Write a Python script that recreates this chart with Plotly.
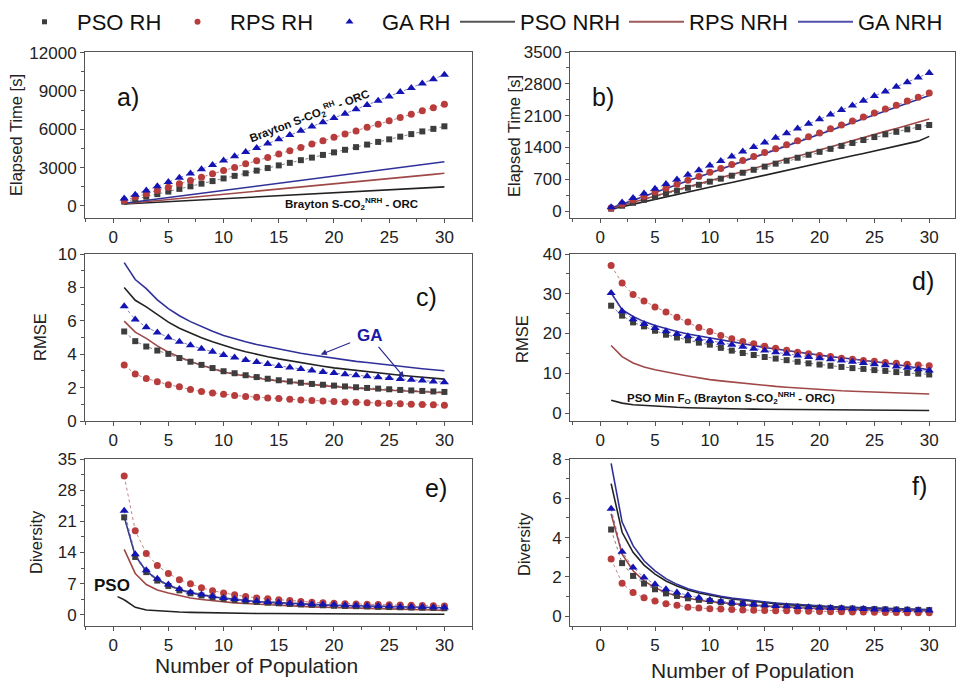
import plotly.graph_objects as go

FONT = "Liberation Sans, Arial, Helvetica, sans-serif"

# ---------------- data ----------------
pop = list(range(1, 31))

# a) elapsed time [s], Brayton S-CO2 RH / NRH - ORC
a_pso_rh = [330, 520, 720, 920, 1120, 1330, 1530, 1740, 1940, 2150, 2350, 2550, 2760, 2960, 3170,
            3370, 3580, 3780, 3990, 4190, 4390, 4600, 4800, 5010, 5210, 5420, 5620, 5830, 6030, 6230]
a_rps_rh = [420, 690, 950, 1210, 1450, 1730, 1990, 2240, 2510, 2770, 3010, 3290, 3540, 3790, 4070,
            4320, 4570, 4850, 5090, 5370, 5620, 5870, 6150, 6390, 6660, 6930, 7170, 7440, 7690, 7960]
a_ga_rh = [570, 880, 1210, 1530, 1860, 2200, 2540, 2870, 3210, 3560, 3880, 4210, 4540, 4880, 5210,
           5550, 5880, 6210, 6550, 6890, 7220, 7560, 7900, 8230, 8570, 8910, 9240, 9580, 9920, 10270]
a_pso_nrh = [150, 195, 240, 290, 335, 380, 425, 470, 520, 565, 610, 655, 700, 750, 795,
             840, 885, 930, 980, 1025, 1070, 1115, 1160, 1210, 1255, 1300, 1345, 1390, 1440, 1485]
a_rps_nrh = [170, 250, 330, 415, 500, 580, 660, 745, 825, 910, 990, 1070, 1155, 1235, 1320,
             1400, 1480, 1565, 1645, 1730, 1810, 1890, 1975, 2055, 2140, 2220, 2300, 2385, 2465, 2550]
a_ga_nrh = [200, 310, 425, 535, 650, 760, 875, 985, 1100, 1210, 1325, 1435, 1550, 1660, 1775,
            1885, 2000, 2110, 2225, 2335, 2450, 2560, 2675, 2785, 2900, 3010, 3125, 3235, 3350, 3460]

# b) elapsed time [s]
b_pso_rh = [55, 120, 185, 250, 315, 385, 450, 515, 580, 650, 715, 780, 845, 910, 980,
            1045, 1110, 1175, 1240, 1305, 1370, 1435, 1500, 1565, 1630, 1690, 1745, 1800, 1850, 1895]
b_rps_rh = [70, 160, 245, 330, 420, 505, 590, 680, 765, 855, 940, 1025, 1115, 1200, 1290,
            1375, 1460, 1550, 1635, 1720, 1810, 1895, 1985, 2070, 2160, 2245, 2330, 2420, 2505, 2600]
b_ga_rh = [85, 190, 290, 390, 495, 595, 695, 800, 900, 1005, 1105, 1205, 1310, 1410, 1510,
           1615, 1715, 1820, 1920, 2020, 2125, 2225, 2325, 2430, 2530, 2630, 2735, 2835, 2940, 3040]
b_pso_nrh = [45, 100, 150, 205, 260, 310, 365, 420, 470, 525, 580, 630, 685, 740, 790,
             845, 900, 950, 1005, 1060, 1110, 1165, 1220, 1270, 1325, 1380, 1430, 1485, 1540, 1645]
b_rps_nrh = [60, 130, 195, 265, 330, 400, 465, 535, 600, 670, 740, 805, 875, 940, 1010,
             1075, 1145, 1210, 1280, 1345, 1415, 1480, 1550, 1620, 1685, 1755, 1820, 1890, 1955, 2025]
b_ga_nrh = [70, 155, 240, 325, 410, 495, 580, 665, 750, 835, 920, 1010, 1095, 1180, 1265,
            1350, 1435, 1520, 1605, 1690, 1775, 1860, 1945, 2035, 2120, 2205, 2290, 2375, 2460, 2545]

# c) RMSE
c_pso_rh = [5.36, 4.78, 4.46, 4.22, 4.02, 3.77, 3.55, 3.36, 3.17, 2.98, 2.86, 2.74, 2.63, 2.53, 2.44,
            2.37, 2.29, 2.22, 2.17, 2.12, 2.07, 2.02, 1.98, 1.94, 1.90, 1.86, 1.83, 1.80, 1.77, 1.74]
c_rps_rh = [3.35, 2.81, 2.55, 2.35, 2.17, 2.05, 1.88, 1.77, 1.68, 1.60, 1.53, 1.47, 1.42, 1.38, 1.34,
            1.30, 1.26, 1.23, 1.20, 1.17, 1.14, 1.12, 1.09, 1.07, 1.05, 1.03, 1.01, 0.99, 0.97, 0.95]
c_ga_rh = [6.87, 6.08, 5.62, 5.30, 5.00, 4.75, 4.53, 4.33, 4.15, 3.95, 3.80, 3.66, 3.53, 3.41, 3.30,
           3.20, 3.11, 3.02, 2.94, 2.87, 2.80, 2.74, 2.68, 2.62, 2.57, 2.52, 2.47, 2.42, 2.37, 2.32]
c_pso_nrh = [7.99, 7.23, 6.83, 6.35, 5.92, 5.55, 5.25, 4.98, 4.74, 4.52, 4.33, 4.15, 3.99, 3.85, 3.72,
             3.60, 3.48, 3.38, 3.28, 3.18, 3.10, 3.02, 2.95, 2.88, 2.80, 2.74, 2.68, 2.62, 2.57, 2.51]
c_rps_nrh = [5.98, 5.32, 4.95, 4.50, 4.12, 3.82, 3.56, 3.34, 3.12, 2.93, 2.80, 2.68, 2.57, 2.47, 2.40,
             2.32, 2.25, 2.18, 2.12, 2.06, 2.01, 1.96, 1.92, 1.88, 1.84, 1.81, 1.78, 1.75, 1.72, 1.69]
c_ga_nrh = [9.48, 8.47, 7.93, 7.25, 6.73, 6.30, 5.95, 5.65, 5.38, 5.12, 4.92, 4.74, 4.58, 4.44, 4.32,
            4.18, 4.06, 3.95, 3.85, 3.74, 3.65, 3.57, 3.50, 3.42, 3.34, 3.27, 3.20, 3.13, 3.07, 3.01]

# d) RMSE
d_pso_rh = [27.0, 24.5, 22.8, 21.8, 20.7, 19.7, 19.0, 18.3, 17.7, 17.2, 16.4, 15.7, 15.1, 14.6, 14.1,
            13.7, 13.3, 12.9, 12.5, 12.2, 11.9, 11.6, 11.3, 11.1, 10.8, 10.6, 10.3, 10.1, 9.9, 9.7]
d_rps_rh = [37.1, 32.7, 29.8, 28.2, 26.7, 25.4, 24.1, 22.9, 21.5, 20.5, 19.5, 18.7, 18.0, 17.4, 16.8,
            16.3, 15.8, 15.3, 14.9, 14.5, 14.2, 13.8, 13.5, 13.2, 13.0, 12.7, 12.5, 12.3, 12.1, 11.9]
d_ga_rh = [30.2, 25.6, 23.6, 22.4, 21.4, 20.6, 19.9, 19.3, 18.7, 18.2, 17.7, 17.2, 16.7, 16.2, 15.7,
           15.3, 14.9, 14.5, 14.1, 13.8, 13.5, 13.2, 12.9, 12.6, 12.3, 12.0, 11.7, 11.4, 11.0, 10.7]
d_pso_nrh = [3.2, 2.5, 2.1, 1.9, 1.7, 1.55, 1.45, 1.35, 1.25, 1.15, 1.1, 1.05, 1.0, 0.98, 0.95,
             0.92, 0.9, 0.88, 0.86, 0.85, 0.83, 0.8, 0.78, 0.76, 0.74, 0.72, 0.7, 0.68, 0.66, 0.65]
d_rps_nrh = [17.0, 14.2, 12.6, 11.6, 10.9, 10.3, 9.8, 9.3, 8.8, 8.4, 8.1, 7.8, 7.5, 7.2, 6.9,
             6.7, 6.5, 6.3, 6.1, 5.9, 5.8, 5.6, 5.5, 5.4, 5.3, 5.2, 5.1, 5.0, 4.9, 4.8]
d_ga_nrh = [30.2, 26.0, 24.3, 23.0, 22.0, 21.2, 20.5, 19.9, 19.4, 18.9, 18.4, 17.9, 17.4, 16.9, 16.5,
            16.1, 15.7, 15.3, 14.9, 14.5, 14.2, 13.9, 13.6, 13.3, 13.0, 12.6, 12.2, 11.8, 11.4, 10.9]

# e) diversity
e_pso_rh = [21.9, 13.0, 9.6, 7.7, 6.5, 5.5, 4.85, 4.35, 3.95, 3.6, 3.35, 3.1, 2.9, 2.75, 2.6,
            2.45, 2.35, 2.25, 2.15, 2.05, 2.0, 1.95, 1.9, 1.8, 1.75, 1.7, 1.65, 1.6, 1.55, 1.5]
e_rps_rh = [31.2, 18.9, 13.8, 11.1, 9.3, 7.9, 7.0, 6.1, 5.4, 4.9, 4.5, 4.1, 3.8, 3.6, 3.4,
            3.2, 3.0, 2.85, 2.7, 2.6, 2.5, 2.45, 2.4, 2.3, 2.25, 2.2, 2.15, 2.1, 2.05, 2.0]
e_ga_rh = [23.4, 13.6, 10.0, 8.1, 6.8, 5.8, 5.1, 4.6, 4.2, 3.8, 3.55, 3.3, 3.1, 2.9, 2.75,
           2.6, 2.5, 2.4, 2.3, 2.25, 2.15, 2.1, 2.05, 2.0, 1.95, 1.85, 1.8, 1.75, 1.7, 1.65]
e_pso_nrh = [3.4, 1.7, 1.1, 0.9, 0.75, 0.65, 0.57, 0.5, 0.45, 0.4, 0.37, 0.34, 0.32, 0.3, 0.28,
             0.26, 0.25, 0.24, 0.23, 0.22, 0.21, 0.2, 0.19, 0.18, 0.18, 0.17, 0.16, 0.16, 0.15, 0.15]
e_rps_nrh = [14.7, 9.3, 6.8, 5.6, 4.9, 4.3, 3.8, 3.45, 3.15, 2.9, 2.7, 2.55, 2.4, 2.25, 2.1,
             2.0, 1.9, 1.8, 1.7, 1.6, 1.55, 1.5, 1.45, 1.4, 1.3, 1.25, 1.2, 1.15, 1.1, 1.0]
e_ga_nrh = [22.0, 13.3, 9.8, 7.9, 6.7, 5.7, 5.0, 4.5, 4.1, 3.75, 3.45, 3.2, 3.0, 2.85, 2.7,
            2.55, 2.45, 2.35, 2.25, 2.15, 2.1, 2.05, 2.0, 1.9, 1.85, 1.8, 1.75, 1.7, 1.65, 1.6]

# f) diversity
f_pso_rh = [4.41, 2.7, 2.05, 1.66, 1.37, 1.16, 1.03, 0.91, 0.83, 0.77, 0.71, 0.66, 0.62, 0.59, 0.56,
            0.53, 0.5, 0.48, 0.45, 0.43, 0.42, 0.4, 0.39, 0.37, 0.36, 0.35, 0.34, 0.33, 0.32, 0.31]
f_rps_rh = [2.91, 1.68, 1.2, 0.94, 0.77, 0.63, 0.55, 0.46, 0.41, 0.38, 0.36, 0.34, 0.32, 0.3, 0.29,
            0.28, 0.27, 0.26, 0.25, 0.24, 0.23, 0.22, 0.21, 0.21, 0.2, 0.19, 0.19, 0.18, 0.18, 0.17]
f_ga_rh = [5.47, 3.28, 2.48, 1.97, 1.62, 1.37, 1.2, 1.06, 0.94, 0.82, 0.75, 0.68, 0.63, 0.59, 0.55,
           0.52, 0.5, 0.47, 0.45, 0.43, 0.41, 0.4, 0.38, 0.36, 0.34, 0.33, 0.32, 0.31, 0.3, 0.29]
f_pso_nrh = [6.75, 4.27, 3.25, 2.6, 2.14, 1.79, 1.54, 1.33, 1.18, 1.06, 0.96, 0.88, 0.81, 0.74, 0.68,
             0.63, 0.59, 0.55, 0.51, 0.48, 0.46, 0.44, 0.42, 0.4, 0.38, 0.37, 0.35, 0.34, 0.32, 0.31]
f_rps_nrh = [5.21, 3.16, 2.31, 1.8, 1.45, 1.2, 1.03, 0.91, 0.81, 0.73, 0.67, 0.62, 0.58, 0.54, 0.51,
             0.48, 0.45, 0.43, 0.4, 0.38, 0.37, 0.35, 0.34, 0.32, 0.31, 0.3, 0.29, 0.28, 0.27, 0.26]
f_ga_nrh = [7.78, 4.79, 3.59, 2.82, 2.31, 1.91, 1.62, 1.4, 1.24, 1.11, 1.01, 0.92, 0.85, 0.78, 0.72,
            0.67, 0.63, 0.59, 0.55, 0.51, 0.49, 0.47, 0.45, 0.43, 0.41, 0.4, 0.38, 0.37, 0.35, 0.34]

x_ticks = [0, 5, 10, 15, 20, 25, 30]
panel_names = ["a)", "b)", "c)", "d)", "e)", "f)"]
y_titles = ["Elapsed Time [s]", "Elapsed Time [s]", "RMSE", "RMSE", "Diversity", "Diversity"]
y_ranges = [[-950, 12050], [-150, 3500], [0, 10], [-2, 40], [-2.5, 35], [-0.5, 8]]
y_dticks = [3000, 700, 2, 10, 7, 2]
x_title = "Number of Population"

series_names = ["PSO RH", "RPS RH", "GA RH", "PSO NRH", "RPS NRH", "GA NRH"]
panels = [
    [a_pso_rh, a_rps_rh, a_ga_rh, a_pso_nrh, a_rps_nrh, a_ga_nrh],
    [b_pso_rh, b_rps_rh, b_ga_rh, b_pso_nrh, b_rps_nrh, b_ga_nrh],
    [c_pso_rh, c_rps_rh, c_ga_rh, c_pso_nrh, c_rps_nrh, c_ga_nrh],
    [d_pso_rh, d_rps_rh, d_ga_rh, d_pso_nrh, d_rps_nrh, d_ga_nrh],
    [e_pso_rh, e_rps_rh, e_ga_rh, e_pso_nrh, e_rps_nrh, e_ga_nrh],
    [f_pso_rh, f_rps_rh, f_ga_rh, f_pso_nrh, f_rps_nrh, f_ga_nrh],
]

# ---------------- styles ----------------
marker_styles = [
    dict(symbol="square", size=6, color="#3d3d3d"),
    dict(symbol="circle", size=7, color="#b83c3c"),
    dict(symbol="triangle-up", size=8, color="#1414b4"),
]
connector_colors = ["rgba(90,90,90,0.75)", "rgba(170,90,90,0.75)", "rgba(90,90,170,0.75)"]
line_colors = ["#222222", "#a04848", "#30309a"]
legend_line_colors = ["#555555", "#a05a5a", "#5050a8"]

W, H = 957, 681
col_dom = [[85 / W, 472 / W], [570 / W, 955 / W]]
row_dom = [[1 - 218 / H, 1 - 52 / H], [1 - 421 / H, 1 - 254 / H], [1 - 626 / H, 1 - 459 / H]]
x_ranges = [[-2.55, 32.5], [-2.75, 32.35]]

legend_x_px = [12, 165, 317, 455, 624, 793]

fig = go.Figure()

for p, data in enumerate(panels):
    ax = "" if p == 0 else str(p + 1)
    xa, ya = "x" + ax, "y" + ax
    # NRH solid curves
    for k in range(3, 6):
        fig.add_trace(go.Scatter(
            x=pop, y=data[k], mode="lines", name=series_names[k],
            line=dict(color=line_colors[k - 3], width=1.6),
            xaxis=xa, yaxis=ya, showlegend=False, hoverinfo="skip"))
    # RH points with thin dotted connectors
    for k in range(3):
        fig.add_trace(go.Scatter(
            x=pop, y=data[k], mode="lines",
            line=dict(color=connector_colors[k], width=1, dash="dot"),
            xaxis=xa, yaxis=ya, showlegend=False, hoverinfo="skip"))
        fig.add_trace(go.Scatter(
            x=pop, y=data[k], mode="markers", name=series_names[k],
            marker=dict(symbol=marker_styles[k]["symbol"], size=marker_styles[k]["size"],
                        color=marker_styles[k]["color"], line=dict(width=0)),
            xaxis=xa, yaxis=ya, showlegend=False))

# legend entries (one legend per entry so each sits where it should)
for k in range(6):
    lg = "legend" if k == 0 else "legend" + str(k + 1)
    if k < 3:
        fig.add_trace(go.Scatter(
            x=[None], y=[None], mode="markers", name=series_names[k],
            marker=dict(symbol=marker_styles[k]["symbol"], size=marker_styles[k]["size"] - 1,
                        color=marker_styles[k]["color"]),
            legend=lg, showlegend=True))
    else:
        fig.add_trace(go.Scatter(
            x=[None], y=[None], mode="lines", name=series_names[k],
            line=dict(color=legend_line_colors[k - 3], width=2),
            legend=lg, showlegend=True))

layout = dict(
    width=W, height=H,
    margin=dict(l=0, r=0, t=0, b=0, autoexpand=False),
    paper_bgcolor="white", plot_bgcolor="white",
    font=dict(family=FONT, color="#222"),
    showlegend=True,
)
for k in range(6):
    lg = "legend" if k == 0 else "legend" + str(k + 1)
    layout[lg] = dict(
        x=legend_x_px[k] / W, y=1 - 22 / H, xanchor="left", yanchor="middle",
        xref="container", yref="container",
        orientation="h", bgcolor="rgba(0,0,0,0)", borderwidth=0,
        font=dict(family=FONT, size=22, color="#111"), itemwidth=55,
        itemclick=False, itemdoubleclick=False)

axis_base = dict(
    showline=True, linecolor="#555", linewidth=1, mirror=True,
    ticks="outside", ticklen=4, tickwidth=1, tickcolor="#555",
    tickfont=dict(family=FONT, size=17, color="#222"),
    showgrid=False, zeroline=False, fixedrange=True, automargin=False,
)
for p in range(6):
    r, c = divmod(p, 2)
    ax = "" if p == 0 else str(p + 1)
    layout["xaxis" + ax] = dict(
        axis_base, domain=col_dom[c], range=x_ranges[c], anchor="y" + ax,
        tickvals=x_ticks, minor=dict(ticks="outside", ticklen=3, tickcolor="#555", dtick=2.5, tick0=0))
    layout["yaxis" + ax] = dict(
        axis_base, domain=row_dom[r], range=y_ranges[p], anchor="x" + ax,
        tick0=0, dtick=y_dticks[p], tickformat="d",
        minor=dict(ticks="outside", ticklen=3, tickcolor="#555", dtick=y_dticks[p] / 2, tick0=0))

annotations = []
centered = dict(xanchor="center", yanchor="middle", showarrow=False)
# panel letters (position inside each frame)
letter_pos = [(0.111, 0.727), (0.085, 0.73), (0.883, 0.74), (0.917, 0.84), (0.907, 0.825), (0.909, 0.837)]
for p in range(6):
    ax = "" if p == 0 else str(p + 1)
    annotations.append(dict(
        centered, text=panel_names[p], x=letter_pos[p][0], y=letter_pos[p][1],
        xref="x" + ax + " domain", yref="y" + ax + " domain",
        font=dict(family=FONT, size=25, color="#111")))

# y axis titles
ytitle_px = [(16, 135), (514, 136), (40, 337), (522, 339), (36, 542), (524, 544)]
for p in range(6):
    annotations.append(dict(
        centered, text=y_titles[p], x=ytitle_px[p][0] / W, y=1 - ytitle_px[p][1] / H,
        xref="paper", yref="paper", textangle=-90,
        font=dict(family=FONT, size=16.5, color="#222")))

# x axis titles (bottom row)
for cx, cy in [(256, 665), (752, 670)]:
    annotations.append(dict(
        centered, text=x_title, x=cx / W, y=1 - cy / H, xref="paper", yref="paper",
        font=dict(family=FONT, size=21, color="#222")))

bold = dict(family=FONT, size=11.5, color="#111")
# a) curve family labels
annotations.append(dict(
    centered, text="<b>Brayton S-CO<sub>2</sub><sup>RH</sup> - ORC</b>", x=17.8, y=7000,
    xref="x", yref="y", textangle=-21, font=bold))
annotations.append(dict(
    centered, text="<b>Brayton S-CO<sub>2</sub><sup>NRH</sup> - ORC</b>", x=21.6, y=150,
    xref="x", yref="y", font=bold))

# c) GA label with pointers
annotations.append(dict(
    centered, text="<b>GA</b>", x=23.25, y=5.12, xref="x3", yref="y3",
    font=dict(family=FONT, size=17, color="#1a1aa8")))
for hx, hy, tx, ty in [(18.8, 3.98, 21.6, 4.72), (26.35, 2.61, 23.9, 4.55)]:
    annotations.append(dict(
        text=" ", x=hx, y=hy, ax=tx, ay=ty, xref="x3", yref="y3", axref="x3", ayref="y3",
        showarrow=True, arrowhead=2, arrowsize=1, arrowwidth=1.2, arrowcolor="#2a2a90",
        font=dict(size=1)))

# d) bottom curve label
annotations.append(dict(
    centered, text="<b>PSO Min F<sub>O</sub> (Brayton S-CO<sub>2</sub><sup>NRH</sup> - ORC)</b>",
    x=11.9, y=3.9, xref="x4", yref="y4", font=bold))

# e) PSO label
annotations.append(dict(
    centered, text="<b>PSO</b>", x=-0.15, y=6.6, xref="x5", yref="y5",
    font=dict(family=FONT, size=17, color="#111")))

layout["annotations"] = annotations
layout["shapes"] = [dict(
    type="line", x0=0.4, y0=4.1, x1=1.0, y1=3.4, xref="x5", yref="y5",
    line=dict(color="#222", width=1.5, dash="dash"))]

fig.update_layout(**layout)
fig.write_html("out.html")
